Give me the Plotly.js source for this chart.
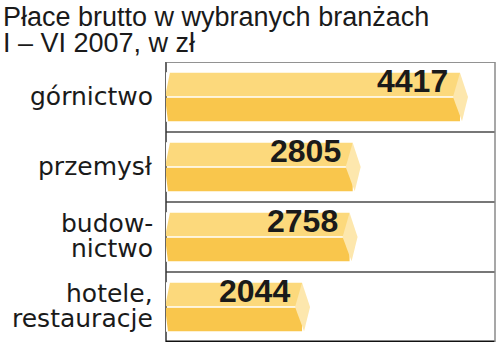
<!DOCTYPE html>
<html>
<head>
<meta charset="utf-8">
<script src="https://cdn.plot.ly/plotly-3.0.1.min.js"></script>
<style>html,body{margin:0;padding:0;background:#fff;}#chart{width:500px;height:361px;}</style>
</head>
<body>
<div id="chart"></div>
<script>
// ---- data ----
const categories = ["górnictwo", "przemysł", "budow-\nnictwo", "hotele,\nrestauracje"];
const values = [4417, 2805, 2758, 2044];
const titleLine1 = "Płace brutto w wybranych branżach";
const titleLine2 = "I – VI 2007, w zł";

// ---- styling ----
const colTop = "#fcd97c";
const colBottom = "#f9c64c";
const colFace = "#fde7ad";
const xMax = 4943;
const plotW = 329;
const PX = xMax / plotW;       // data units per pixel on x
const H = 0.345;               // half bar thickness (category units)
const GAP = 0.012;

const pos = categories.map((_, i) => i);

const traces = [
  {
    type: "bar", orientation: "h", x: values, y: pos,
    width: H - GAP, offset: -H,
    marker: {color: colTop}, hoverinfo: "x", showlegend: false
  },
  {
    type: "bar", orientation: "h", x: values, y: pos,
    width: H - GAP, offset: GAP,
    marker: {color: colBottom}, hoverinfo: "x", showlegend: false
  }
];

const shapes = [];
values.forEach((v, i) => {
  const c = pos[i];
  // right end face (light chevron)
  shapes.push({
    type: "path", xref: "x", yref: "y", layer: "above",
    path: `M ${v - 7 * PX},${c} L ${v},${c - H} L ${v + 8 * PX},${c} L ${v + 2 * PX},${c + H} Z`,
    fillcolor: colFace, line: {width: 0}
  });
  // left pointed end (white cut-outs)
  shapes.push({
    type: "path", xref: "x", yref: "y", layer: "above",
    path: `M ${-1 * PX},${c - H - 0.01} L ${4 * PX},${c - H - 0.01} L ${-1 * PX},${c} Z`,
    fillcolor: "#ffffff", line: {width: 0}
  });
  shapes.push({
    type: "path", xref: "x", yref: "y", layer: "above",
    path: `M ${-1 * PX},${c} L ${2 * PX},${c + H + 0.01} L ${-1 * PX},${c + H + 0.01} Z`,
    fillcolor: "#ffffff", line: {width: 0}
  });
});
// separators between categories
for (let i = 0; i < categories.length - 1; i++) {
  shapes.push({type: "line", xref: "paper", yref: "y", x0: 0, x1: 1, y0: i + 0.5, y1: i + 0.5,
    line: {color: "#4a4a4a", width: 1.5}, layer: "below"});
}
// frame
shapes.push({type: "line", xref: "paper", yref: "y", x0: 0, x1: 1, y0: -0.5, y1: -0.5, line: {color: "#6e6e6e", width: 1.5}});
shapes.push({type: "line", xref: "paper", yref: "y", x0: 0, x1: 1, y0: 3.5, y1: 3.5, line: {color: "#111111", width: 3}});
shapes.push({type: "line", xref: "paper", yref: "paper", x0: 0, x1: 0, y0: 0, y1: 1, line: {color: "#333333", width: 1.5}, layer: "below"});
shapes.push({type: "line", xref: "paper", yref: "paper", x0: 1, x1: 1, y0: 0, y1: 1, line: {color: "#8a8a8a", width: 1.5}});

const annotations = [];
// value labels
values.forEach((v, i) => {
  annotations.push({
    xref: "x", yref: "y", x: v, y: pos[i], xanchor: "right", yanchor: "middle",
    xshift: -10, yshift: 16, showarrow: false, text: String(v),
    font: {family: "Liberation Sans, Arial, sans-serif", size: 32, weight: "bold", color: "#1a1a1a"}
  });
});
// category labels (split lines for tight line spacing)
categories.forEach((lab, i) => {
  const lines = lab.split("\n");
  const n = lines.length;
  lines.forEach((ln, k) => {
    annotations.push({
      xref: "paper", yref: "y", x: 0, y: pos[i], xanchor: "right", yanchor: "middle",
      xshift: -11, yshift: ((n - 1) / 2 - k) * 25 + 1, showarrow: false, text: ln,
      font: {family: "DejaVu Sans, sans-serif", size: 25, color: "#1a1a1a"}
    });
  });
});
// title lines
annotations.push({
  xref: "paper", yref: "paper", x: (1 - 166) / plotW, y: 1 + (62 - 17) / 280,
  xanchor: "left", yanchor: "middle", showarrow: false, text: titleLine1,
  font: {family: "Liberation Sans, Arial, sans-serif", size: 27, color: "#1a1a1a"}
});
annotations.push({
  xref: "paper", yref: "paper", x: (1 - 166) / plotW, y: 1 + (62 - 43) / 280,
  xanchor: "left", yanchor: "middle", showarrow: false, text: titleLine2,
  font: {family: "Liberation Sans, Arial, sans-serif", size: 27, color: "#1a1a1a"}
});

const layout = {
  width: 500, height: 361,
  margin: {l: 166, r: 5, t: 62, b: 19, pad: 0},
  paper_bgcolor: "#ffffff", plot_bgcolor: "#ffffff",
  barmode: "overlay",
  xaxis: {range: [0, xMax], showticklabels: false, showgrid: false, zeroline: false, ticks: "", fixedrange: true},
  yaxis: {range: [3.5, -0.5], showticklabels: false, showgrid: false, zeroline: false, ticks: "", fixedrange: true},
  shapes: shapes,
  annotations: annotations,
  showlegend: false
};

Plotly.newPlot("chart", traces, layout, {displayModeBar: false, staticPlot: true});
</script>
</body>
</html>
